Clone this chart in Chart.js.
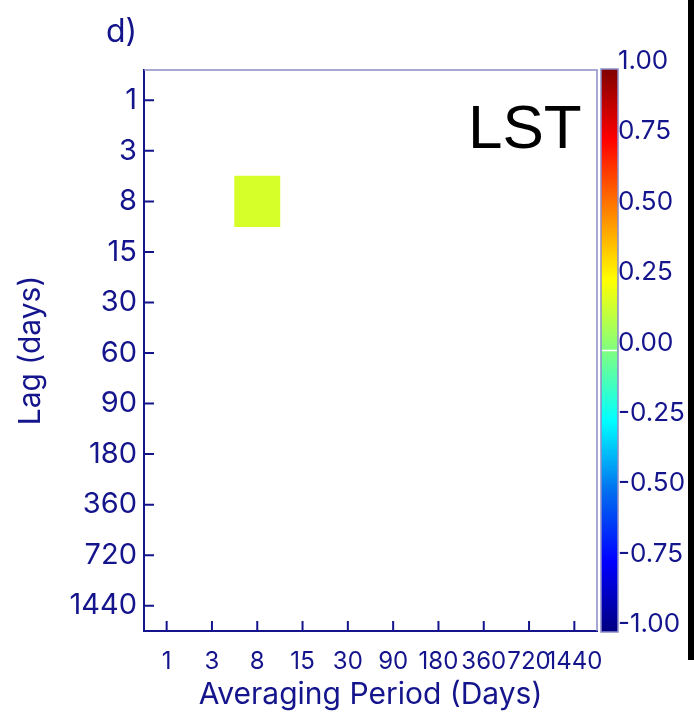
<!DOCTYPE html>
<html>
<head>
<meta charset="utf-8">
<script src="https://cdn.jsdelivr.net/npm/chart.js@4.4.0/dist/chart.umd.min.js"></script>
<style>
  html, body { margin: 0; padding: 0; background: #fff; }
  #wrap { position: relative; width: 694px; height: 713px; }
  #edge { position: absolute; left: 688px; top: 0; width: 6px; height: 660px; background: #000; }
</style>
</head>
<body>
<div id="wrap">
  <canvas id="lagChart" width="694" height="713"></canvas>
  <div id="edge"></div>
</div>
<script>
const avgPeriods = ['1', '3', '8', '15', '30', '90', '180', '360', '720', '1440'];
const lags = ['1', '3', '8', '15', '30', '60', '90', '180', '360', '720', '1440'];
const cbTicks = [1.00, 0.75, 0.50, 0.25, 0.00, -0.25, -0.50, -0.75, -1.00];

// significant correlations only
const cellPeriod = ['8'];
const cellLag = ['8'];
const cellValue = [0.17];

const NAVY = '#14148c';
const FRAME = '#8c8cc8';
const FONT = "Inter, 'Liberation Sans', sans-serif";
const LABEL_FONT = "'Liberation Sans', Arial, sans-serif";

// colour table, value -> rgb
const cmap = [
    [-1.00, [0, 0, 128]],
    [-0.75, [0, 0, 255]],
    [-0.50, [0, 110, 240]],
    [-0.25, [0, 255, 255]],
    [0.00, [128, 255, 128]],
    [0.25, [255, 255, 0]],
    [0.50, [255, 128, 0]],
    [0.75, [255, 0, 0]],
    [1.00, [128, 0, 0]]
];

function colorFor(v) {
    for (let i = 1; i < cmap.length; i++) {
        if (v <= cmap[i][0]) {
            let a = cmap[i - 1], b = cmap[i];
            let t = (v - a[0]) / (b[0] - a[0]);
            let c = a[1].map((x, k) => Math.round(x + (b[1][k] - x) * t));
            return 'rgb(' + c.join(',') + ')';
        }
    }
    return 'rgb(128,0,0)';
}

let cells = [];
for (let i = 0; i < cellValue.length; i++) {
    let li = lags.indexOf(cellLag[i]);
    cells.push({ x: cellPeriod[i], y: [li - 0.5, li + 0.5] });
}

const extras = {
    id: 'extras',
    afterDatasetsDraw(chart) {
        const ctx = chart.ctx;
        const area = chart.chartArea;
        const xs = chart.scales.x;
        const ys = chart.scales.y;
        ctx.save();

        // light frame on top and right
        ctx.strokeStyle = FRAME;
        ctx.lineWidth = 1.5;
        ctx.beginPath();
        ctx.moveTo(area.left, area.top);
        ctx.lineTo(area.right, area.top);
        ctx.lineTo(area.right, area.bottom);
        ctx.stroke();

        // inward tick marks
        ctx.strokeStyle = NAVY;
        ctx.lineWidth = 2;
        ctx.beginPath();
        avgPeriods.forEach((p, i) => {
            let px = xs.getPixelForValue(i);
            ctx.moveTo(px, area.bottom);
            ctx.lineTo(px, area.bottom - 10);
        });
        lags.forEach((l, i) => {
            let py = ys.getPixelForValue(i);
            ctx.moveTo(area.left, py);
            ctx.lineTo(area.left + 10, py);
        });
        ctx.stroke();

        // colour bar
        const cbL = area.right + 4, cbR = area.right + 21;
        const cbTop = area.top - 1, cbBot = area.bottom + 1;
        const cbY = v => cbTop + (1 - v) / 2 * (cbBot - cbTop);
        const grad = ctx.createLinearGradient(0, cbTop, 0, cbBot);
        cmap.forEach(s => {
            grad.addColorStop((1 - s[0]) / 2, 'rgb(' + s[1].join(',') + ')');
        });
        ctx.fillStyle = grad;
        ctx.fillRect(cbL, cbTop, cbR - cbL, cbBot - cbTop);
        ctx.strokeStyle = '#fff';
        ctx.lineWidth = 1.5;
        ctx.beginPath();
        ctx.moveTo(cbL + 1, cbY(0));
        ctx.lineTo(cbR - 1, cbY(0));
        ctx.stroke();
        ctx.strokeStyle = FRAME;
        ctx.lineWidth = 1.5;
        ctx.strokeRect(cbL, cbTop, cbR - cbL, cbBot - cbTop);

        ctx.fillStyle = NAVY;
        ctx.font = '26px ' + FONT;
        ctx.textAlign = 'left';
        ctx.textBaseline = 'alphabetic';
        cbTicks.forEach(v => {
            ctx.fillText(v.toFixed(2), cbR, cbY(v));
        });

        // panel letter and variable name
        ctx.font = '32px ' + FONT;
        ctx.fillText('d)', 106, 42);
        ctx.fillStyle = '#000';
        ctx.font = '62px ' + LABEL_FONT;
        ctx.fillText('LST', 468, 148);
        ctx.restore();
    }
};

new Chart(document.getElementById('lagChart'), {
    type: 'bar',
    data: {
        labels: avgPeriods,
        datasets: [{
            data: cells,
            backgroundColor: cellValue.map(colorFor),
            borderWidth: 0,
            barPercentage: 1,
            categoryPercentage: 1
        }]
    },
    options: {
        responsive: false,
        animation: false,
        layout: { padding: { left: 0, top: 70, right: 97, bottom: 0 } },
        plugins: {
            legend: { display: false },
            tooltip: { enabled: false }
        },
        scales: {
            x: {
                type: 'category',
                offset: true,
                grid: { display: false, drawTicks: false },
                border: { display: true, color: NAVY, width: 2 },
                ticks: {
                    autoSkip: false,
                    maxRotation: 0,
                    minRotation: 0,
                    padding: 16,
                    color: NAVY,
                    font: { family: FONT, size: 24 }
                },
                title: {
                    display: true,
                    text: 'Averaging Period (Days)',
                    color: NAVY,
                    font: { family: FONT, size: 30 },
                    padding: { top: 0, bottom: 0 }
                },
                afterFit(scale) { scale.height = 82; }
            },
            y: {
                type: 'linear',
                reverse: true,
                min: -0.6,
                max: 10.5,
                grid: { display: false, drawTicks: false },
                border: { display: true, color: NAVY, width: 2 },
                afterBuildTicks(scale) {
                    scale.ticks = lags.map((l, i) => ({ value: i }));
                },
                ticks: {
                    autoSkip: false,
                    padding: 7,
                    color: NAVY,
                    font: { family: FONT, size: 29 },
                    callback: v => lags[v]
                },
                title: {
                    display: true,
                    text: 'Lag (days)',
                    color: NAVY,
                    font: { family: FONT, size: 30 },
                    padding: { top: 13, bottom: 0 }
                },
                afterFit(scale) { scale.width = 144; }
            }
        }
    },
    plugins: [extras]
});
</script>
</body>
</html>
